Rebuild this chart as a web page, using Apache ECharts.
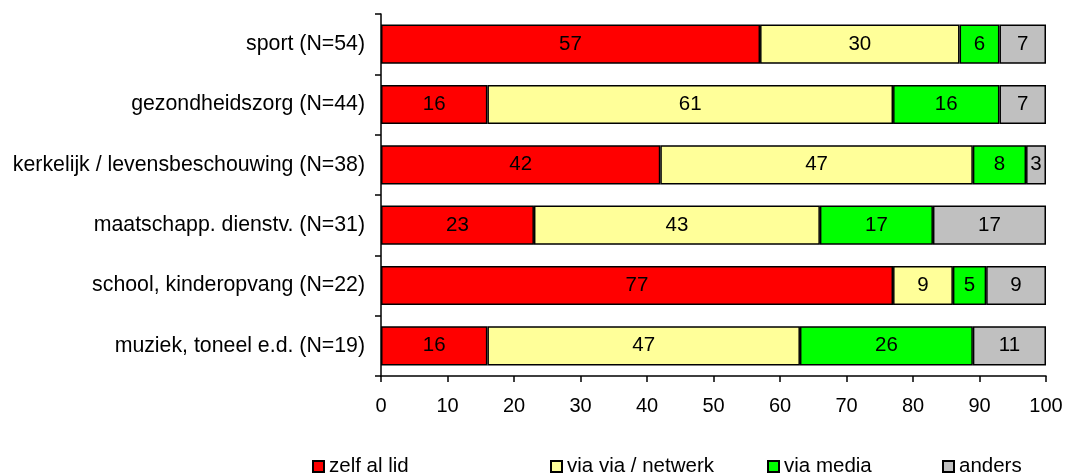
<!DOCTYPE html>
<html>
<head>
<meta charset="utf-8">
<script src="https://cdn.jsdelivr.net/npm/echarts@6/dist/echarts.min.js"></script>
<style>html,body{margin:0;padding:0;background:#fff}#c{width:1066px;height:473px}</style>
</head>
<body>
<div id="c"></div>
<script>
const categories = ["sport (N=54)", "gezondheidszorg (N=44)", "kerkelijk / levensbeschouwing (N=38)", "maatschapp. dienstv. (N=31)", "school, kinderopvang (N=22)", "muziek, toneel e.d. (N=19)"];
const seriesNames = ["zelf al lid", "via via / netwerk", "via media", "anders"];
const zelfAlLid = [57, 16, 42, 23, 77, 16];
const viaVia = [30, 61, 47, 43, 9, 47];
const viaMedia = [6, 16, 8, 17, 5, 26];
const anders = [7, 7, 3, 17, 9, 11];
const colors = ["#FF0000", "#FFFF99", "#00FF00", "#C0C0C0"];
const xTicks = [0, 10, 20, 30, 40, 50, 60, 70, 80, 90, 100];

const font = "Liberation Sans, Arial, sans-serif";
const values = [zelfAlLid, viaVia, viaMedia, anders];
const chart = echarts.init(document.getElementById('c'));
const legendLefts = [312, 550, 767, 942];
chart.setOption({
  animation: false,
  grid: {left: 381, right: 20, top: 14, bottom: 97, containLabel: false},
  legend: seriesNames.map((n, i) => ({
    data: [n], left: legendLefts[i], top: 456, padding: 0, itemWidth: 11, itemHeight: 11, itemGap: 4,
    icon: 'rect', textStyle: {fontFamily: font, fontSize: 20.5, lineHeight: 21, color: '#000'},
    itemStyle: {borderColor: '#000', borderWidth: 2}
  })),
  xAxis: {
    type: 'value', min: 0, max: 100, interval: 10,
    axisLine: {show: true, lineStyle: {color: '#000', width: 1.5}},
    axisTick: {show: true, length: 6, lineStyle: {color: '#000', width: 1.5}},
    axisLabel: {fontFamily: font, fontSize: 20, color: '#000', margin: 20,
      formatter: v => xTicks.includes(v) ? String(v) : ''},
    splitLine: {show: false}
  },
  yAxis: {
    type: 'category', data: categories, inverse: true,
    axisLine: {show: true, lineStyle: {color: '#000', width: 1.5}},
    axisTick: {show: true, length: 6, lineStyle: {color: '#000', width: 1.5}},
    axisLabel: {fontFamily: font, fontSize: 21.3, color: '#000', margin: 16}
  },
  series: seriesNames.map((n, i) => ({
    name: n, type: 'bar', stack: 'total', data: values[i], barWidth: '65%',
    itemStyle: {color: colors[i], borderColor: '#000', borderWidth: 1.5},
    label: {show: true, position: 'inside', fontFamily: font, fontSize: 20.5, color: '#000'}
  }))
});
</script>
</body>
</html>
